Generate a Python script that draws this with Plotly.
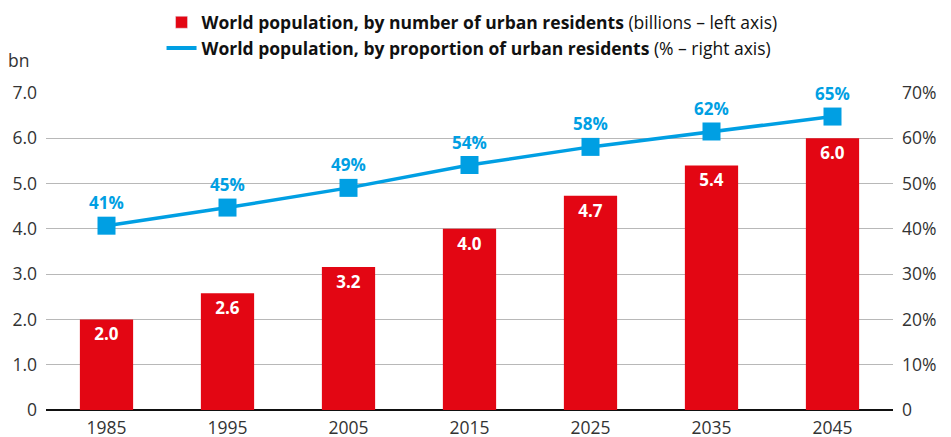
import plotly.graph_objects as go

years = ["1985", "1995", "2005", "2015", "2025", "2035", "2045"]
urban_bn = [2.0, 2.58, 3.16, 4.0, 4.73, 5.4, 6.0]
urban_share = [40.7, 44.7, 49.05, 54.1, 58.1, 61.5, 64.8]
share_labels = ["41%", "45%", "49%", "54%", "58%", "62%", "65%"]

left_ticks = [0, 1, 2, 3, 4, 5, 6, 7]
left_ticktext = ["0", "1.0", "2.0", "3.0", "4.0", "5.0", "6.0", "7.0"]
right_ticks = [0, 10, 20, 30, 40, 50, 60, 70]
right_ticktext = ["0", "10%", "20%", "30%", "40%", "50%", "60%", "70%"]

RED = "#e30613"
BLUE = "#009fe3"
FONT = "'Open Sans', Lato, sans-serif"
TICK = dict(size=17.5, color="#333333")

fig = go.Figure()

fig.add_trace(go.Bar(
    x=years, y=urban_bn,
    marker=dict(color=RED, line=dict(width=0)),
    width=0.44,
    text=[f"{v:.1f}" for v in urban_bn],
    textposition="inside", insidetextanchor="end",
    textfont=dict(color="white", size=17, family=FONT, weight="bold"),
    showlegend=False,
    yaxis="y",
))

fig.add_trace(go.Scatter(
    x=years, y=urban_share,
    mode="lines+markers+text",
    line=dict(color=BLUE, width=3.5),
    marker=dict(symbol="square", size=18, color=BLUE),
    text=share_labels, textposition="top center",
    textfont=dict(color=BLUE, size=17, family=FONT, weight="bold"),
    cliponaxis=False,
    showlegend=False,
    yaxis="y2",
))

# legend-only entries
fig.add_trace(go.Bar(
    x=[None], y=[None], marker=dict(color=RED),
    name="<b>World population, by number of urban residents</b> (billions – left axis)",
))
fig.add_trace(go.Scatter(
    x=[None], y=[None], mode="lines", line=dict(color=BLUE, width=4),
    name="<b>World population, by proportion of urban residents</b> (% – right axis)",
    yaxis="y2",
))

fig.update_layout(
    width=951, height=437,
    margin=dict(l=46, r=58, t=93, b=27, autoexpand=False),
    paper_bgcolor="white", plot_bgcolor="white",
    font=dict(family=FONT, size=17.5, color="#333333"),
    bargap=0.56,
    legend=dict(
        orientation="v", x=0.503, xanchor="center", y=0.99, yanchor="top",
        yref="container", font=dict(size=17.5, color="#111111"),
        itemwidth=30, tracegroupgap=0, traceorder="normal",
    ),
    xaxis=dict(
        showgrid=False, showline=False, ticks="", ticklabelstandoff=5,
        tickfont=TICK,
    ),
    yaxis=dict(
        range=[0, 7], tickvals=left_ticks, ticktext=left_ticktext,
        showgrid=True, gridcolor="#b8b8b8", gridwidth=1,
        zeroline=True, zerolinecolor="#111111", zerolinewidth=1.5,
        ticks="", ticklabelstandoff=8,
        tickfont=TICK,
    ),
    yaxis2=dict(
        range=[0, 70], tickvals=right_ticks, ticktext=right_ticktext,
        overlaying="y", side="right", showgrid=False, zeroline=False,
        ticks="", ticklabelstandoff=8,
        tickfont=TICK,
    ),
    annotations=[dict(
        text="bn", xref="paper", yref="paper", x=-0.032, y=1.06,
        xanchor="center", yanchor="bottom", showarrow=False,
        font=dict(size=17.5, color="#333333"),
    )],
)

fig.write_html("out.html", config={"displayModeBar": False},
               post_script="document.body.style.margin='0';")
